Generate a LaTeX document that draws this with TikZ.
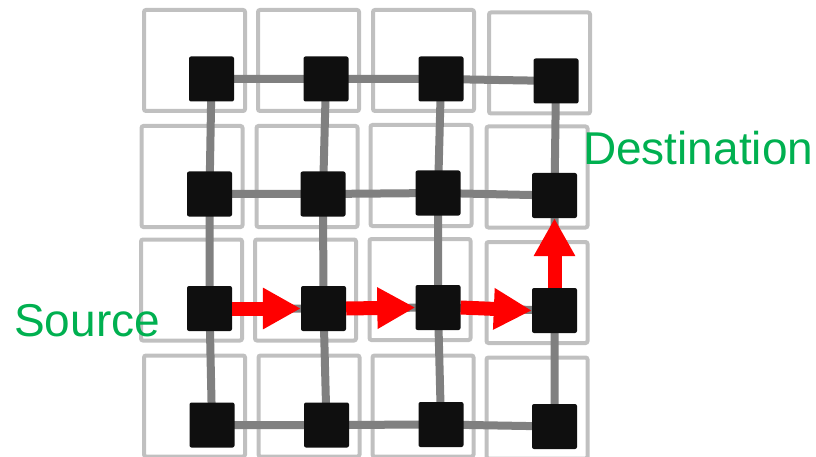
\documentclass[tikz,border=0pt]{standalone}
\usepackage{fontspec}
\setmainfont{Liberation Sans}
\usetikzlibrary{arrows.meta}
\definecolor{boxgray}{HTML}{C0C0C0}
\definecolor{linkgray}{HTML}{808080}
\definecolor{routerblack}{HTML}{0F0F0F}
\definecolor{labelgreen}{HTML}{00B050}
\definecolor{pathred}{HTML}{FF0000}
\tikzset{
  tile/.style={draw=boxgray, line width=4pt, rounded corners=2pt, minimum width=101pt, minimum height=101pt, inner sep=0pt},
  router/.style={fill=routerblack, rounded corners=2pt, minimum width=45pt, minimum height=45pt, inner sep=0pt},
  link/.style={draw=linkgray, line width=8pt},
  hop/.style={draw=pathred, line width=14pt, -{Triangle[length=38pt,width=39pt]}, shorten >=0pt},
  lbl/.style={text=labelgreen, font=\fontsize{46}{46}\selectfont, inner sep=0pt, anchor=base west}
}
\begin{document}
\begin{tikzpicture}[x=1pt,y=-1pt]
\useasboundingbox (0,0) rectangle (816,457);
\begin{scope}
\clip (0,0) rectangle (816,457);
% tiles
\node[tile] (t00) at (194.5,60.5) {};
\node[tile] (t01) at (308.5,60.5) {};
\node[tile] (t02) at (423.5,60.5) {};
\node[tile] (t03) at (539.5,63) {};
\node[tile] (t10) at (192,176.5) {};
\node[tile] (t11) at (307,176.5) {};
\node[tile] (t12) at (421,175.5) {};
\node[tile] (t13) at (537,177) {};
\node[tile] (t20) at (191.5,290) {};
\node[tile] (t21) at (305.5,290) {};
\node[tile] (t22) at (420,289.5) {};
\node[tile] (t23) at (537,292.5) {};
\node[tile] (t30) at (194.5,406) {};
\node[tile] (t31) at (309,406) {};
\node[tile] (t32) at (423,406) {};
\node[tile] (t33) at (537,408) {};
\end{scope}
% router coordinates
\coordinate (c00) at (211.5,79);
\coordinate (c01) at (326,79);
\coordinate (c02) at (441,79);
\coordinate (c03) at (556,81);
\coordinate (c10) at (209.5,194);
\coordinate (c11) at (323,194);
\coordinate (c12) at (438,193);
\coordinate (c13) at (554.5,195.5);
\coordinate (c20) at (209.5,308.5);
\coordinate (c21) at (323.5,308.5);
\coordinate (c22) at (438,307.5);
\coordinate (c23) at (554.5,310.5);
\coordinate (c30) at (212,425);
\coordinate (c31) at (326.5,425);
\coordinate (c32) at (441,424.5);
\coordinate (c33) at (554.5,426.5);
% links
\foreach \r in {0,1,2,3}{
  \draw[link] (c\r0) -- (c\r1) -- (c\r2) -- (c\r3);
}
\foreach \c in {0,1,2,3}{
  \draw[link] (c0\c) -- (c1\c) -- (c2\c) -- (c3\c);
}
% routers
\foreach \r in {0,1,2,3}{
  \foreach \c in {0,1,2,3}{
    \node[router] (n\r\c) at (c\r\c) {};
  }
}
% path
\draw[hop] (n20.east) -- (n21.west);
\draw[hop] (n21.east) -- (n22.west);
\draw[hop] (n22.east) -- (n23.west);
\draw[hop] (n23.north) -- (n13.south);
% labels
\node[lbl] (src) at (14,336) {Source};
\node[lbl] (dst) at (583,165) {Destination};
\end{tikzpicture}
\end{document}
